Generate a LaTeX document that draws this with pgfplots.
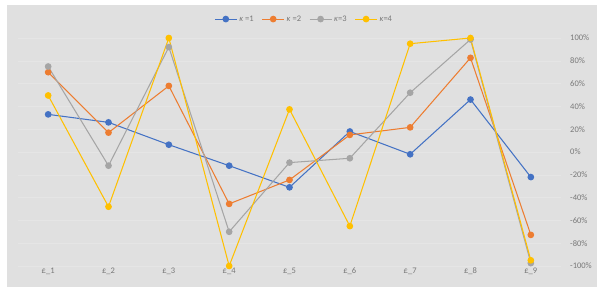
\documentclass[border=0pt]{standalone}
\usepackage{pgfplots}
\pgfplotsset{compat=1.18}
\usepackage{fontspec}
\setmainfont{Carlito}
\definecolor{bgc}{RGB}{224,224,224}
\definecolor{gridc}{RGB}{229,229,229}
\definecolor{txtc}{RGB}{120,120,120}
\definecolor{c1}{RGB}{68,114,196}
\definecolor{c2}{RGB}{237,125,49}
\definecolor{c3}{RGB}{165,165,165}
\definecolor{c4}{RGB}{255,192,0}
\begin{document}
\begin{tikzpicture}
\path[use as bounding box] (0,0) rectangle (604bp,294bp);
\fill[bgc] (7bp,7bp) rectangle (597bp,289bp);
\begin{axis}[
  at={(18bp,28bp)}, anchor=south west,
  width=543bp, height=228bp, scale only axis,
  xmin=-0.5, xmax=8.5, ymin=-1, ymax=1,
  axis line style={draw=none},
  major tick length=0pt,
  xtick={0,...,8},
  xticklabels={£\_1,£\_2,£\_3,£\_4,£\_5,£\_6,£\_7,£\_8,£\_9},
  ytick={-1,-0.8,-0.6,-0.4,-0.2,0,0.2,0.4,0.6,0.8,1},
  yticklabels={-100\%,-80\%,-60\%,-40\%,-20\%,0\%,20\%,40\%,60\%,80\%,100\%},
  yticklabel pos=right,
  ymajorgrids, major grid style={gridc, line width=0.5pt},
  tick label style={font=\fontsize{8.5bp}{10bp}\selectfont, text=txtc},
  yticklabel style={anchor=west, inner sep=0pt, xshift=9bp},
  xticklabel style={inner sep=0pt, yshift=-1.5bp},
  every axis plot/.append style={line width=1.05pt, mark=*, mark size=2.8bp, mark options={solid}},
  legend columns=4,
  legend style={draw=none, fill=none, at={(0.527,1.083)}, anchor=center,
    font=\fontsize{8.5bp}{10bp}\selectfont, text=txtc,
    /tikz/every even column/.append style={column sep=6bp}},
  legend image code/.code={\draw[#1, mark repeat=2, mark phase=2] plot coordinates {(0bp,0bp) (11bp,0bp) (22bp,0bp)};},
  clip=false,
]
\addplot[c1] coordinates {(0,0.33) (1,0.26) (2,0.064) (3,-0.12) (4,-0.31) (5,0.18) (6,-0.02) (7,0.46) (8,-0.22)};
\addplot[c2] coordinates {(0,0.70) (1,0.17) (2,0.58) (3,-0.455) (4,-0.245) (5,0.15) (6,0.216) (7,0.826) (8,-0.727)};
\addplot[c3] coordinates {(0,0.75) (1,-0.12) (2,0.92) (3,-0.70) (4,-0.093) (5,-0.055) (6,0.52) (7,0.987) (8,-0.975)};
\addplot[c4] coordinates {(0,0.496) (1,-0.48) (2,1.0) (3,-1.0) (4,0.374) (5,-0.65) (6,0.95) (7,1.0) (8,-0.95)};
\legend{\textit{κ} =1,\textit{κ} =2,\textit{κ}=3,\textit{κ}=4}
\end{axis}
\end{tikzpicture}
\end{document}
